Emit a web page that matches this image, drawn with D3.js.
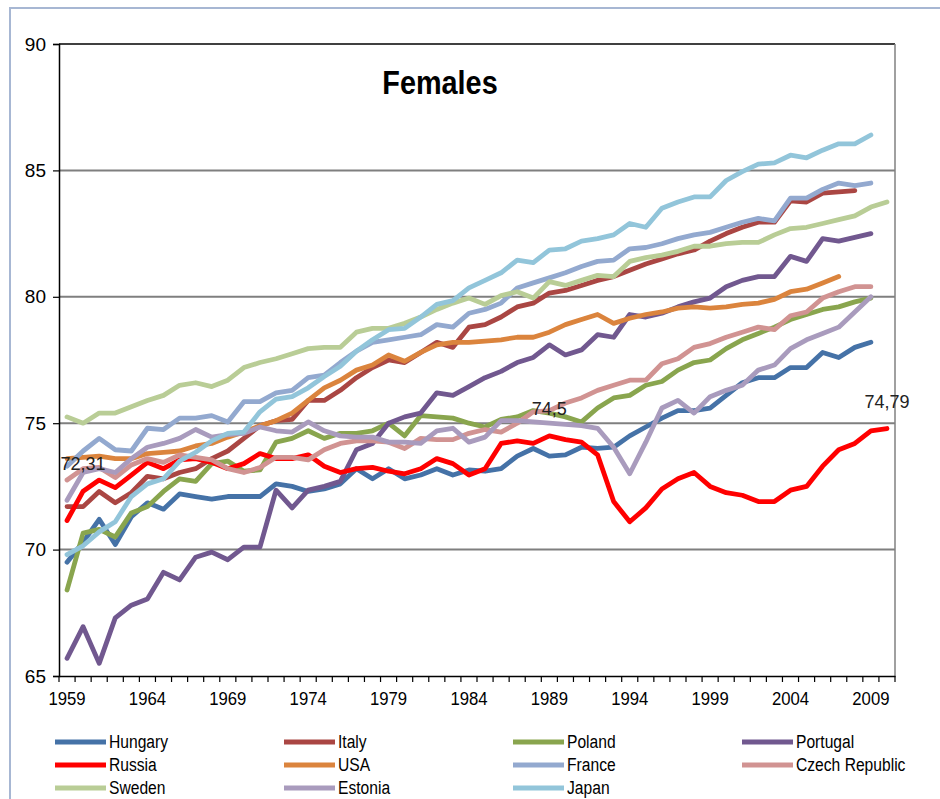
<!DOCTYPE html>
<html>
<head>
<meta charset="utf-8">
<script src="https://cdn.jsdelivr.net/npm/d3@7"></script>
<style>
  body { margin: 0; background: #fff; }
  text { font-family: "Liberation Sans Narrow", "Arial Narrow", "Liberation Sans", sans-serif; fill: #000; }
</style>
</head>
<body>
<div id="chart"></div>
<script>
// years on the x axis
var years = d3.range(1959, 2011);

// female life expectancy, first value = 1959
var hungary = [69.5,70.3,71.2,70.2,71.3,71.85,71.6,72.2,72.1,72.0,
  72.1,72.1,72.1,72.6,72.5,72.3,72.4,72.6,73.2,72.8,
  73.2,72.8,72.95,73.2,72.95,73.15,73.1,73.2,73.7,74.0,
  73.7,73.75,74.05,74.0,74.05,74.5,74.85,75.2,75.5,75.5,
  75.6,76.1,76.6,76.8,76.8,77.2,77.2,77.8,77.6,78.0,78.2];
var italy = [71.7,71.7,72.3,71.85,72.25,72.9,72.8,73.05,73.2,73.6,
  73.9,74.4,74.9,75.1,75.15,75.9,75.9,76.3,76.8,77.2,
  77.5,77.4,77.8,78.2,78.0,78.8,78.9,79.2,79.6,79.75,
  80.15,80.25,80.45,80.65,80.8,81.05,81.3,81.5,81.7,81.85,
  82.2,82.5,82.75,82.95,82.95,83.8,83.75,84.1,84.15,84.2];
var poland = [68.4,70.65,70.8,70.5,71.45,71.7,72.3,72.8,72.7,73.4,
  73.5,73.1,73.15,74.25,74.4,74.7,74.4,74.6,74.6,74.7,
  75.0,74.5,75.3,75.25,75.2,75.0,74.85,75.15,75.25,75.5,
  75.4,75.25,75.05,75.6,76.0,76.1,76.5,76.65,77.1,77.4,
  77.5,77.95,78.3,78.55,78.8,79.1,79.3,79.5,79.6,79.8,79.95];
var portugal = [65.7,66.95,65.5,67.3,67.8,68.05,69.1,68.8,69.7,69.9,
  69.6,70.1,70.1,72.35,71.65,72.35,72.5,72.7,73.95,74.2,
  75.0,75.25,75.4,76.2,76.1,76.45,76.8,77.05,77.4,77.6,
  78.1,77.7,77.9,78.5,78.4,79.3,79.2,79.35,79.6,79.8,
  79.95,80.4,80.65,80.8,80.8,81.6,81.4,82.3,82.2,82.35,82.5];
var russia = [71.15,72.31,72.75,72.45,72.95,73.45,73.2,73.55,73.6,73.45,
  73.2,73.4,73.8,73.6,73.6,73.75,73.3,73.05,73.2,73.25,
  73.1,73.0,73.2,73.6,73.4,72.95,73.2,74.2,74.3,74.2,
  74.5,74.35,74.25,73.75,71.9,71.1,71.65,72.4,72.8,73.05,
  72.5,72.25,72.15,71.9,71.9,72.35,72.5,73.3,73.95,74.2,74.7,74.79];
var usa = [73.6,73.65,73.7,73.6,73.6,73.8,73.85,73.9,74.1,74.2,
  74.45,74.65,74.9,75.1,75.4,75.9,76.4,76.7,77.1,77.3,
  77.7,77.45,77.8,78.1,78.2,78.2,78.25,78.3,78.4,78.4,
  78.6,78.9,79.1,79.3,78.95,79.15,79.3,79.4,79.55,79.6,
  79.55,79.6,79.7,79.75,79.9,80.2,80.3,80.55,80.8];
var france = [73.3,73.9,74.4,73.95,73.9,74.8,74.75,75.2,75.2,75.3,
  75.05,75.85,75.85,76.2,76.3,76.8,76.9,77.4,77.85,78.2,
  78.3,78.4,78.5,78.9,78.8,79.35,79.5,79.75,80.35,80.55,
  80.75,80.95,81.2,81.4,81.45,81.9,81.95,82.1,82.3,82.45,
  82.55,82.75,82.95,83.1,83.0,83.9,83.9,84.25,84.5,84.4,84.5];
var czech = [72.75,73.2,73.25,72.85,73.35,73.6,73.45,73.75,73.65,73.55,
  73.2,73.05,73.25,73.65,73.65,73.55,73.95,74.2,74.3,74.3,
  74.25,74.0,74.4,74.35,74.35,74.6,74.75,74.65,75.0,75.45,
  75.5,75.8,76.0,76.3,76.5,76.7,76.7,77.35,77.55,78.0,
  78.15,78.4,78.6,78.8,78.7,79.25,79.4,79.95,80.2,80.4,80.4];
var sweden = [75.25,75.0,75.4,75.4,75.65,75.9,76.1,76.5,76.6,76.45,
  76.7,77.2,77.4,77.55,77.75,77.95,78.0,78.0,78.6,78.75,
  78.75,78.95,79.2,79.5,79.75,79.95,79.7,80.05,80.2,79.95,
  80.6,80.45,80.65,80.85,80.8,81.4,81.55,81.65,81.8,82.0,
  82.0,82.1,82.15,82.15,82.45,82.7,82.75,82.9,83.05,83.2,83.55,83.75];
var estonia = [71.95,73.05,73.2,73.05,73.6,74.05,74.2,74.4,74.75,74.45,
  74.55,74.6,74.85,74.7,74.65,75.05,74.7,74.5,74.45,74.45,
  74.25,74.25,74.2,74.7,74.8,74.25,74.45,75.1,75.1,75.05,
  75.0,74.95,74.9,74.8,74.05,73.0,74.25,75.6,75.9,75.4,
  76.05,76.3,76.5,77.1,77.3,77.95,78.3,78.55,78.8,79.4,80.0];
var japan = [69.8,70.15,70.7,71.1,72.1,72.6,72.8,73.5,73.85,74.3,
  74.6,74.65,75.45,75.95,76.05,76.4,76.85,77.25,77.85,78.3,
  78.7,78.75,79.2,79.7,79.85,80.35,80.65,80.95,81.45,81.35,
  81.85,81.9,82.2,82.3,82.45,82.9,82.75,83.5,83.75,83.95,
  83.95,84.6,84.95,85.25,85.3,85.6,85.5,85.8,86.05,86.05,86.4];

var seriesNames = ["Hungary", "Italy", "Poland", "Portugal", "Russia", "USA",
  "France", "Czech Republic", "Sweden", "Estonia", "Japan"];
var seriesValues = [hungary, italy, poland, portugal, russia, usa,
  france, czech, sweden, estonia, japan];
var seriesColors = ["#4572A7", "#AA4643", "#89A54E", "#71588F", "#FF0000", "#DB843D",
  "#93A9CF", "#D19392", "#B9CD96", "#A99BBD", "#92C5DA"];

// labelled russia points
var labelYears = [1960, 1989, 2010];
var labelTexts = ["72,31", "74,5", "74,79"];

var yTicks = [65, 70, 75, 80, 85, 90];
var xTicks = [1959, 1964, 1969, 1974, 1979, 1984, 1989, 1994, 1999, 2004, 2009];

var svgWidth = 940;
var svgHeight = 799;
var plot = { left: 59, right: 895, top: 44, bottom: 676 };

var svg = d3.select("#chart")
  .append("svg")
  .attr("width", svgWidth)
  .attr("height", svgHeight);

svg.append("rect")
  .attr("width", svgWidth)
  .attr("height", svgHeight)
  .attr("fill", "#fff");

// outer frame (only top and left edges are visible)
svg.append("rect")
  .attr("x", 10)
  .attr("y", 8)
  .attr("width", 1000)
  .attr("height", 1000)
  .attr("fill", "none")
  .attr("stroke", "#A7B7D3")
  .attr("stroke-width", 2);

var x = d3.scaleBand()
  .domain(years)
  .range([plot.left, plot.right]);
var xc = function(yr) { return x(yr) + x.bandwidth() / 2; };

var y = d3.scaleLinear()
  .domain([65, 90])
  .range([plot.bottom, plot.top]);

// gridlines
svg.append("g")
  .selectAll("line")
  .data(yTicks.filter(function(t) { return t > 65; }))
  .enter()
  .append("line")
  .attr("x1", plot.left)
  .attr("x2", plot.right)
  .attr("y1", function(d) { return y(d); })
  .attr("y2", function(d) { return y(d); })
  .attr("stroke", function(d) { return d === 90 ? "#404040" : "#7F7F7F"; })
  .attr("stroke-width", 2);

// right border of the plot
svg.append("line")
  .attr("x1", plot.right).attr("x2", plot.right)
  .attr("y1", plot.top).attr("y2", plot.bottom)
  .attr("stroke", "#808080")
  .attr("stroke-width", 1.5);

// y axis
var leftAxis = d3.axisLeft(y).tickValues(yTicks).tickSize(6).tickPadding(7);
var gy = svg.append("g")
  .attr("transform", "translate(" + plot.left + ",0)")
  .call(leftAxis);
gy.select(".domain").attr("stroke", "#000").attr("stroke-width", 1.5);
gy.selectAll(".tick line").attr("stroke", "#000").attr("stroke-width", 1.2);
gy.selectAll(".tick text")
  .attr("font-size", 19)
  .style("font-family", "'Liberation Sans Narrow', 'Arial Narrow', sans-serif");

// x axis: labels every 5 years
var bottomAxis = d3.axisBottom(x).tickValues(xTicks).tickSize(0).tickPadding(16);
var gx = svg.append("g")
  .attr("transform", "translate(0," + plot.bottom + ")")
  .call(bottomAxis);
gx.select(".domain").attr("stroke", "#000").attr("stroke-width", 1.5);
gx.selectAll(".tick text")
  .attr("font-size", 19)
  .attr("transform", "scale(0.88,1)")
  .style("font-family", "'Liberation Sans Narrow', 'Arial Narrow', sans-serif");

// x tick marks between the categories
svg.append("g")
  .selectAll("line")
  .data(years.concat([null]))
  .enter()
  .append("line")
  .attr("x1", function(d) { return d === null ? plot.right : x(d); })
  .attr("x2", function(d) { return d === null ? plot.right : x(d); })
  .attr("y1", plot.bottom)
  .attr("y2", plot.bottom + 6)
  .attr("stroke", "#000")
  .attr("stroke-width", 1.2);

// lines
var line = d3.line()
  .x(function(d, i) { return xc(years[i]); })
  .y(function(d) { return y(d); });

svg.append("g")
  .selectAll("path")
  .data(seriesValues)
  .enter()
  .append("path")
  .attr("d", function(d) { return line(d); })
  .attr("fill", "none")
  .attr("stroke", function(d, i) { return seriesColors[i]; })
  .attr("stroke-width", 4.8)
  .attr("stroke-linejoin", "round")
  .attr("stroke-linecap", "round");

// data labels on russia
svg.append("g")
  .selectAll("text")
  .data(labelYears)
  .enter()
  .append("text")
  .attr("x", function(d) { return xc(d); })
  .attr("y", function(d) { return y(russia[d - 1959]) - 21; })
  .attr("text-anchor", "middle")
  .attr("font-size", 18)
  .style("font-family", "'Liberation Sans', Arial, sans-serif")
  .style("fill", "#222")
  .text(function(d, i) { return labelTexts[i]; });

// title
svg.append("text")
  .attr("transform", "translate(440,94) scale(0.93,1.05)")
  .attr("text-anchor", "middle")
  .attr("font-size", 31)
  .attr("font-weight", "bold")
  .text("Females");

// legend
var legend = svg.append("g");
var legendItems = legend.selectAll("g")
  .data(seriesNames)
  .enter()
  .append("g")
  .attr("transform", function(d, i) {
    return "translate(" + (55 + (i % 4) * 229) + "," + (742 + Math.floor(i / 4) * 23) + ")";
  });
legendItems.append("line")
  .attr("x1", 0).attr("x2", 51)
  .attr("y1", 0).attr("y2", 0)
  .attr("stroke", function(d, i) { return seriesColors[i]; })
  .attr("stroke-width", 5);
legendItems.append("text")
  .attr("transform", "translate(54,6) scale(0.92,1.05)")
  .attr("font-size", 17)
  .text(function(d) { return d; });
</script>
</body>
</html>
